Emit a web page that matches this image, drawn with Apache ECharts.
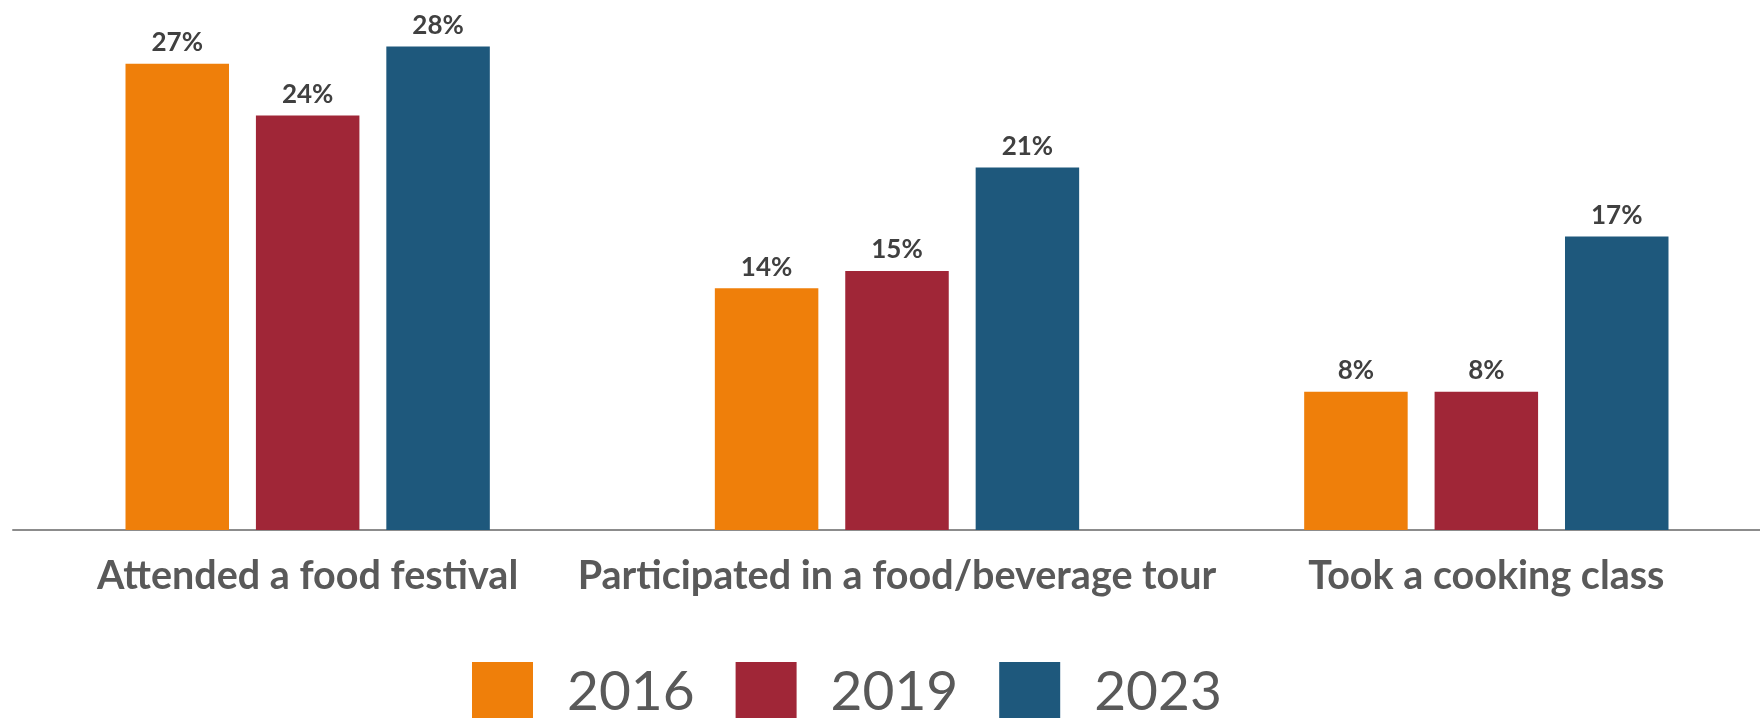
<!DOCTYPE html>
<html>
<head>
<meta charset="utf-8">
<title>Culinary activities by year</title>
<script src="https://cdn.jsdelivr.net/npm/echarts@6/dist/echarts.min.js"></script>
<style>
  html, body { margin: 0; padding: 0; background: #ffffff; overflow: hidden; }
  /* the plot runs a little past the right edge of the page */
  #chart { width: 1781px; height: 718px; }
</style>
</head>
<body>
<div id="chart"></div>
<script>
// Activity categories along the x axis
const categories = [
  'Attended a food festival',
  'Participated in a food/beverage tour',
  'Took a cooking class'
];

// Survey years shown in the legend
const years = ['2016', '2019', '2023'];

// Share of respondents (%) per activity, one array per year
const values2016 = [27, 14, 8];
const values2019 = [24, 15, 8];
const values2023 = [28, 21, 17];

const seriesValues = [values2016, values2019, values2023];
const colors = ['#EF7F0A', '#A02637', '#1E587C'];

const chart = echarts.init(document.getElementById('chart'), null, { renderer: 'canvas' });

const series = years.map((year, i) => ({
  name: year,
  type: 'bar',
  data: seriesValues[i],
  barWidth: 103.5,
  barGap: '26%',
  itemStyle: { color: colors[i] },
  label: {
    show: true,
    position: 'top',
    distance: 8,
    formatter: '{c}%',
    fontFamily: 'Lato',
    fontWeight: 'bold',
    fontSize: 26,
    color: '#404040'
  }
}));

chart.setOption({
  animation: false,
  backgroundColor: '#ffffff',
  grid: { left: 13, right: 0, top: 12, bottom: 188, containLabel: false },
  legend: {
    data: years,
    left: 472,
    top: 662,
    padding: 0,
    icon: 'rect',
    itemWidth: 61,
    itemHeight: 61,
    itemGap: 41,
    textStyle: {
      fontFamily: 'Lato',
      fontSize: 55,
      color: '#595959',
      padding: [0, 0, 0, 29]
    }
  },
  xAxis: {
    type: 'category',
    data: categories,
    axisLine: { show: true, lineStyle: { color: '#8C8C8C', width: 2 } },
    axisTick: { show: false },
    axisLabel: {
      interval: 0,
      margin: 26,
      fontFamily: 'Lato',
      fontWeight: 'bold',
      fontSize: 39.5,
      color: '#595959'
    }
  },
  yAxis: {
    type: 'value',
    min: 0,
    max: 30,
    show: false,
    splitLine: { show: false }
  },
  series: series
});
</script>
</body>
</html>
